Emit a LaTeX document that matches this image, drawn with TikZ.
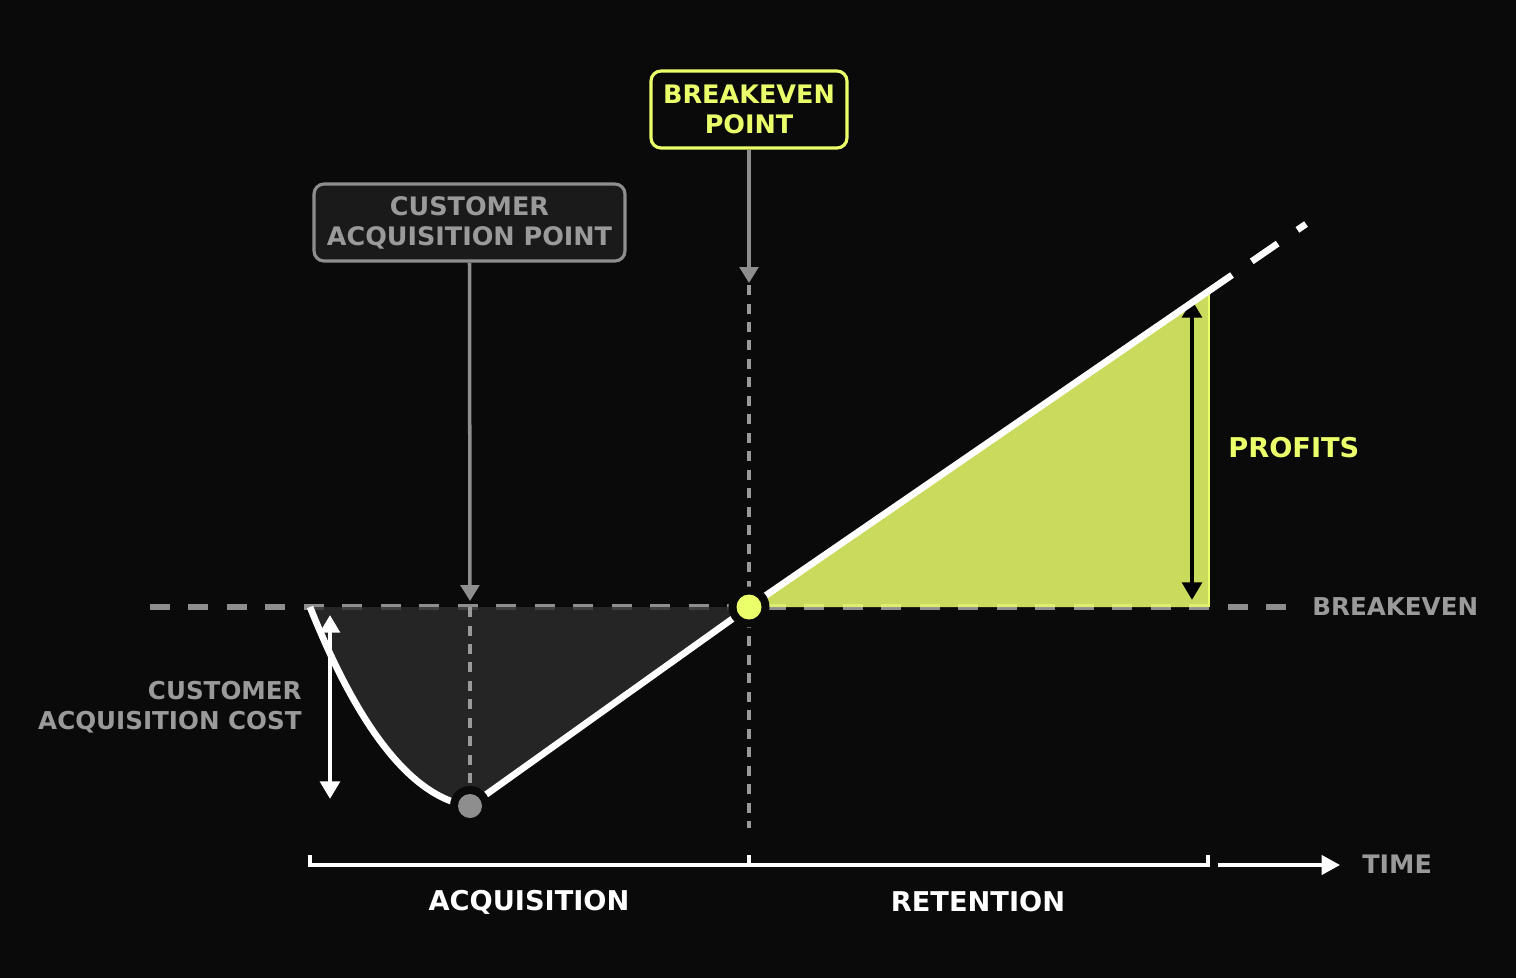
\documentclass[tikz,border=0pt]{standalone}
\usepackage{fontspec}
\setmainfont{DejaVu Sans}
\usetikzlibrary{positioning,calc,arrows,arrows.meta}
\definecolor{bg}{HTML}{0A0A0A}
\definecolor{txtgray}{HTML}{9A9A9A}
\definecolor{linegray}{HTML}{8E8E8E}
\definecolor{darkfill}{HTML}{2C2C2C}
\definecolor{boxfill}{HTML}{1A1A1A}
\definecolor{lime}{HTML}{EBFF6B}
\tikzset{font=\bfseries\fontsize{14.5}{17}\selectfont,
	callout/.style={draw, line width=1.8pt, rounded corners=0.2cm, align=center, inner sep=0pt, minimum height=1.54cm},
	label/.style={inner sep=0pt, align=center},
	guide/.style={txtgray, line width=1.9pt, dash pattern=on 0.2cm off 0.17cm},
	pointer/.style={linegray, line width=2pt, -{Triangle[width=10.5pt,length=9pt]}},
	span/.style={line width=2.5pt, {Triangle[width=11pt,length=10pt]}-{Triangle[width=11pt,length=10pt]}}}

\begin{document}
\begin{tikzpicture}[x=0.02cm, y=-0.02cm]
	\fill[bg] (0,0) rectangle (1516,978);
	\useasboundingbox (0,0) rectangle (1516,978);

	\coordinate (start) at (310,607);
	\coordinate (cap) at (470,806);
	\coordinate (bep) at (749,607);
	\coordinate (peak) at (1209,291);
	\coordinate (base) at (1209,607);
	\coordinate (solidend) at (1232,275);
	\coordinate (lineend) at (1306,224);

	% breakeven level
	\draw[linegray, line width=3pt, dash pattern=on 0.4cm off 0.37cm] (150,607) -- (1290,607);
	\node[label, anchor=west, text=txtgray, font=\bfseries\fontsize{14}{17}\selectfont] (breakeven) at (1312,607) {BREAKEVEN};

	% areas
	\fill[darkfill, fill opacity=0.8] (start) .. controls (352,712) and (405,797) .. (cap) -- (bep) -- cycle;
	\fill[lime, fill opacity=0.85] (bep) -- (peak) -- (base) -- cycle;
	\draw[lime, line width=0.9pt] (peak) -- (base);

	% guides
	\draw[guide] (470,607) -- (cap);
	\draw[guide] (749,285) -- (749,828);

	% callouts
	\node[callout, draw=linegray, fill=boxfill, text=txtgray, minimum width=6.22cm] (capbox) at (469.5,222.5) {CUSTOMER\\ACQUISITION POINT};
	\node[callout, draw=lime, fill=bg, text=lime, minimum width=3.92cm] (bepbox) at (749,109.5) {BREAKEVEN\\POINT};
	\coordinate (captip) at (470,601);
	\coordinate (beptip) at (749,283);
	\draw[pointer] (capbox.south) -- (captip);
	\draw[pointer] (bepbox.south) -- (beptip);

	% cost and profit spans
	\coordinate (costtop) at (330,615);
	\coordinate (costbot) at (330,799);
	\draw[span, white] (costtop) -- (costbot);
	\node[label, anchor=east, text=txtgray, align=right, font=\bfseries\fontsize{14}{17}\selectfont] (cost) at (302,707) {CUSTOMER\\ACQUISITION COST};

	\coordinate (proftop) at (1192,300);
	\coordinate (profbot) at (1192,600);
	\draw[span, black] (proftop) -- (profbot);
	\node[label, anchor=west, text=lime, font=\bfseries\fontsize{15.5}{18}\selectfont] (profits) at (1228,448) {PROFITS};

	% value curve
	\draw[white, line width=3.8pt] (start) .. controls (352,712) and (405,797) .. (cap) -- (bep) -- (solidend);
	\draw[white, line width=3.8pt, dash pattern=on 0pt off 0.48cm on 0.63cm off 0.48cm on 0.63cm] (solidend) -- (lineend);

	\fill[bg] (cap) circle (0.4cm);
	\fill[linegray] (cap) circle (0.24cm);
	\fill[bg] (bep) circle (0.41cm);
	\fill[lime] (bep) circle (0.25cm);

	% time axis
	\coordinate (t0) at (310,865);
	\coordinate (t1) at (749,865);
	\coordinate (t2) at (1208,865);
	\draw[white, line width=2pt] ($(t0)+(0,-10)$) -- (t0) -- (t2) -- ($(t2)+(0,-10)$);
	\draw[white, line width=2pt] (t1) -- ($(t1)+(0,-10)$);
	\coordinate (axstart) at (1218,865);
	\coordinate (axend) at (1340,865);
	\draw[white, line width=2pt, -{Triangle[width=11pt,length=10.5pt]}] (axstart) -- (axend);
	\node[label, anchor=west, text=txtgray] (time) at (1362,864) {TIME};

	\node[label, text=white, font=\bfseries\fontsize{15.5}{18}\selectfont] (acq) at (529,902) {ACQUISITION};
	\node[label, text=white, font=\bfseries\fontsize{15.5}{18}\selectfont] (ret) at (978,902) {RETENTION};
\end{tikzpicture}
\end{document}
